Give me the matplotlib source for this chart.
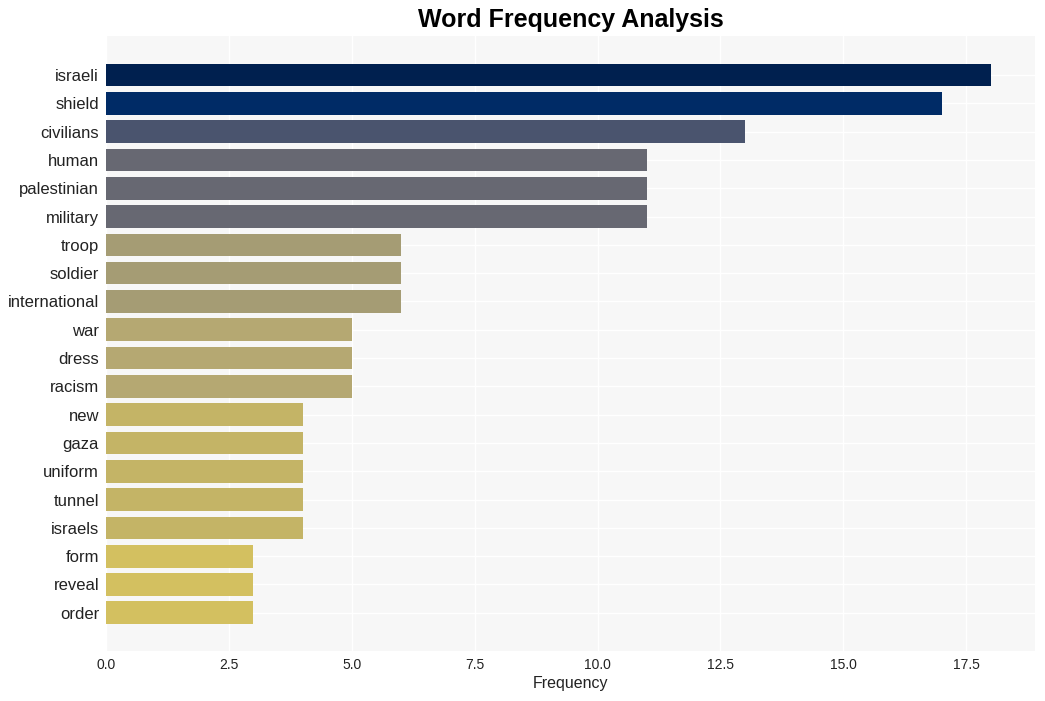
import matplotlib
matplotlib.use("Agg")
import matplotlib.pyplot as plt

words = ["israeli", "shield", "civilians", "human", "palestinian", "military",
         "troop", "soldier", "international", "war", "dress", "racism",
         "new", "gaza", "uniform", "tunnel", "israels", "form", "reveal", "order"]
counts = [18, 17, 13, 11, 11, 11, 6, 6, 6, 5, 5, 5, 4, 4, 4, 4, 4, 3, 3, 3]
colors = ["#00204f", "#002b66", "#4a546e", "#676872", "#676872", "#676872",
          "#a59c74", "#a59c74", "#a59c74", "#b5a872", "#b5a872", "#b5a872",
          "#c4b466", "#c4b466", "#c4b466", "#c4b466", "#c4b466",
          "#d3c060", "#d3c060", "#d3c060"]

plt.rcParams['font.family'] = ['Liberation Sans', 'DejaVu Sans']

fig = plt.figure(figsize=(10.45, 7.01), dpi=100)
ax = fig.add_axes([106/1045, 1 - 651/701, (1035-106)/1045, (651-36)/701])
ax.set_facecolor("#f7f7f7")
y = list(range(len(words)))
ax.barh(y, counts, height=0.8, color=colors, zorder=3)
ax.set_yticks(y)
ax.set_yticklabels(words, fontsize=12, color="#222222")
ax.set_ylim(len(words) - 1 + 1.35, -1.38)
ax.set_xlim(0, 18.9)
ax.set_xticks([0, 2.5, 5, 7.5, 10, 12.5, 15, 17.5])
ax.set_xticklabels(["0.0", "2.5", "5.0", "7.5", "10.0", "12.5", "15.0", "17.5"], fontsize=10, color="#222222")
ax.grid(True, color="white", linewidth=1, zorder=0)
ax.set_axisbelow(True)
for s in ax.spines.values():
    s.set_visible(False)
ax.tick_params(length=0, pad=5)
ax.set_xlabel("Frequency", fontsize=11.5, color="#222222", labelpad=3)
fig.text((106+1035)/2/1045, 1 - 20/701, "Word Frequency Analysis", ha="center", va="center",
         fontsize=18, fontweight="bold", color="black")
fig.savefig("out.png", dpi=100, facecolor="white")
